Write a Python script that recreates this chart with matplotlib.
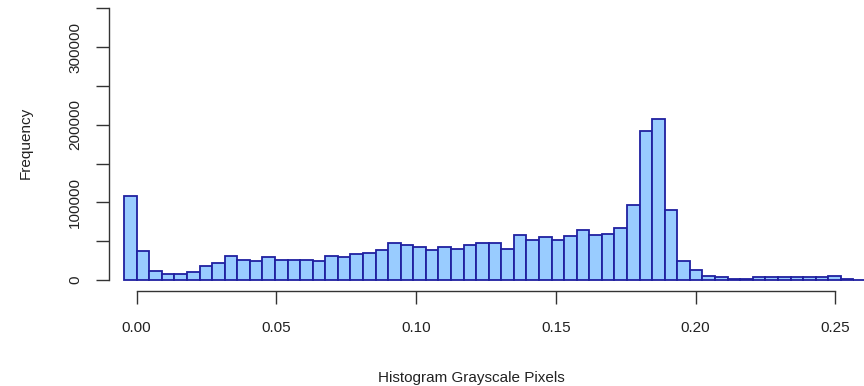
import numpy as np
import matplotlib
matplotlib.use("Agg")
import matplotlib.pyplot as plt

# histogram of grayscale pixel values (counts)
bin_start = -0.0045
bin_width = 0.0045
counts = [108600, 37700, 12000, 7700, 7700, 9900, 18000, 21500, 30900, 26200,
          24500, 29600, 26200, 26200, 26200, 24900, 30900, 29600, 33100, 35200,
          38200, 48100, 44600, 42900, 38200, 42900, 39500, 44600, 48100, 48100,
          39500, 57500, 51100, 55800, 51100, 56300, 64000, 57500, 59200, 67400,
          96600, 191500, 207400, 90200, 24900, 13300, 5500, 3400, 1300, 1300,
          3400, 3400, 3400, 3400, 3400, 3400, 5500, 1700, 0, 0]

x_ticks = [0.00, 0.05, 0.10, 0.15, 0.20, 0.25]
y_ticks = [0, 50000, 100000, 150000, 200000, 250000, 300000, 350000]

plt.rcParams['font.family'] = ['Liberation Sans', 'DejaVu Sans']
plt.rcParams['font.size'] = 11

W, H = 864, 386
fig = plt.figure(figsize=(W / 100, H / 100), dpi=100)
# plot region in pixels: left 109, bottom 290.9, top -2.6, right 864
ax = fig.add_axes([109 / W, (H - 290.9) / H, (W - 109) / W, 293.5 / H])

edges = bin_start + bin_width * np.arange(len(counts))
ax.bar(edges, counts, width=bin_width, align='edge',
       color='#99CCFF', edgecolor='#2020A0', linewidth=1.3, clip_on=True)

ax.set_xlim(-0.0099, 0.2603)
ax.set_ylim(-14000, 364000)

for s in ['top', 'right']:
    ax.spines[s].set_visible(False)
ax.spines['left'].set_bounds(0, 350000)
ax.spines['bottom'].set_bounds(0, 0.25)
for s in ['left', 'bottom']:
    ax.spines[s].set_color('#333333')
    ax.spines[s].set_linewidth(1.0)

ax.set_xticks(x_ticks)
ax.set_xticklabels(['%.2f' % v for v in x_ticks])
ax.set_yticks(y_ticks)
ax.set_yticklabels([str(v) if v % 100000 == 0 else '' for v in y_ticks],
                   rotation=90, va='center')
ax.tick_params(axis='both', direction='out', length=9.4, width=1.0,
               color='#333333', labelcolor='#222222')
ax.tick_params(axis='x', pad=12.5)
ax.tick_params(axis='y', pad=10)

fig.text(26 / W, 1 - 143 / H, 'Frequency', rotation=90,
         ha='center', va='center', color='#222222')
fig.text(471 / W, 1 - 378 / H, 'Histogram Grayscale Pixels',
         ha='center', va='center', color='#222222')

fig.savefig('out.png', dpi=100, facecolor='white')
